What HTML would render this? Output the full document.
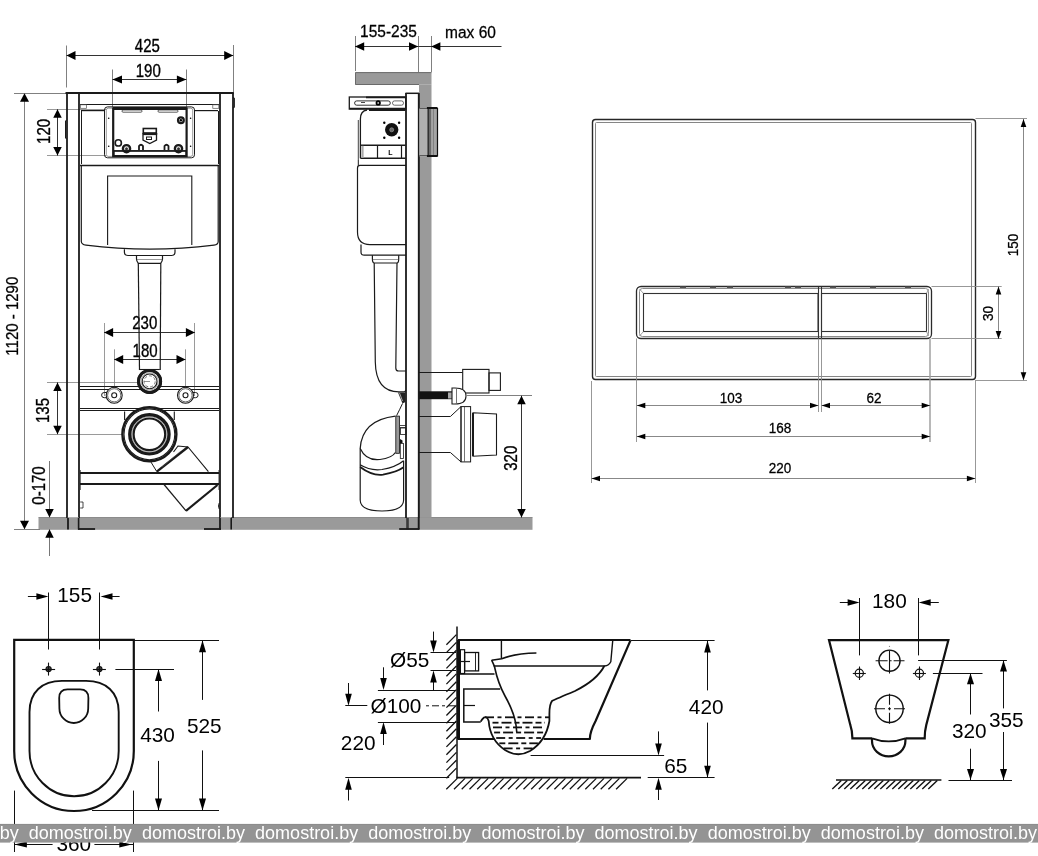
<!DOCTYPE html>
<html><head><meta charset="utf-8"><style>
html,body{margin:0;padding:0;background:#fff;overflow:hidden;}
svg{display:block;will-change:transform}
text{font-family:"Liberation Sans",sans-serif;}
</style></head><body>
<svg width="1038" height="856" viewBox="0 0 1038 856">
<rect width="1038" height="856" fill="#fff"/>
<rect x="38.5" y="517.5" width="494" height="12.3" fill="#9a9a9a" stroke="none" stroke-width="1" rx="0" />
<line x1="38.5" y1="517.5" x2="532.5" y2="517.5" stroke="#7a7a7a" stroke-width="0.8" />
<line x1="66.5" y1="45.5" x2="66.5" y2="87.5" stroke="#808080" stroke-width="1" />
<line x1="233.5" y1="45" x2="233.5" y2="92" stroke="#808080" stroke-width="1" />
<line x1="112.5" y1="69.5" x2="112.5" y2="107" stroke="#808080" stroke-width="1" />
<line x1="186.5" y1="69.5" x2="186.5" y2="107" stroke="#808080" stroke-width="1" />
<line x1="14" y1="93.5" x2="66" y2="93.5" stroke="#808080" stroke-width="1" />
<line x1="47" y1="109.5" x2="106" y2="109.5" stroke="#808080" stroke-width="0.8" />
<line x1="47" y1="155.5" x2="106" y2="155.5" stroke="#808080" stroke-width="0.8" />
<line x1="104.5" y1="323" x2="104.5" y2="396" stroke="#808080" stroke-width="0.8" />
<line x1="194.5" y1="323" x2="194.5" y2="396" stroke="#808080" stroke-width="0.8" />
<line x1="114.5" y1="349.3" x2="114.5" y2="388" stroke="#808080" stroke-width="0.8" />
<line x1="185.5" y1="349.3" x2="185.5" y2="388" stroke="#808080" stroke-width="0.8" />
<line x1="47" y1="382.5" x2="140" y2="382.5" stroke="#808080" stroke-width="0.8" />
<line x1="47" y1="434.5" x2="149.5" y2="434.5" stroke="#808080" stroke-width="0.8" />
<line x1="14" y1="529.5" x2="40" y2="529.5" stroke="#808080" stroke-width="1" />
<line x1="66.5" y1="55.5" x2="233.2" y2="55.5" stroke="#333" stroke-width="1" />
<polygon points="66.50,55.50 75.50,51.00 75.50,60.00" fill="#000"/>
<polygon points="233.20,55.50 224.20,60.00 224.20,51.00" fill="#000"/>
<line x1="112.5" y1="79.5" x2="186.4" y2="79.5" stroke="#333" stroke-width="1" />
<polygon points="112.50,79.50 122.00,75.50 122.00,83.50" fill="#000"/>
<polygon points="186.40,79.50 176.90,83.50 176.90,75.50" fill="#000"/>
<line x1="24.5" y1="93.3" x2="24.5" y2="529.3" stroke="#808080" stroke-width="1" />
<polygon points="24.50,93.30 29.00,101.80 20.00,101.80" fill="#000"/>
<polygon points="24.50,529.30 20.00,520.80 29.00,520.80" fill="#000"/>
<line x1="57.5" y1="109.3" x2="57.5" y2="155.6" stroke="#333" stroke-width="1" />
<polygon points="57.50,109.30 61.75,117.80 53.25,117.80" fill="#000"/>
<polygon points="57.50,155.60 53.25,147.10 61.75,147.10" fill="#000"/>
<line x1="104.1" y1="332.5" x2="194.9" y2="332.5" stroke="#333" stroke-width="1" />
<polygon points="104.10,332.50 113.10,328.00 113.10,337.00" fill="#000"/>
<polygon points="194.90,332.50 185.90,337.00 185.90,328.00" fill="#000"/>
<line x1="114.2" y1="359.5" x2="185.5" y2="359.5" stroke="#333" stroke-width="1" />
<polygon points="114.20,359.50 123.20,355.00 123.20,364.00" fill="#000"/>
<polygon points="185.50,359.50 176.50,364.00 176.50,355.00" fill="#000"/>
<line x1="57.5" y1="382.4" x2="57.5" y2="434.2" stroke="#333" stroke-width="1" />
<polygon points="57.50,382.40 61.75,390.90 53.25,390.90" fill="#000"/>
<polygon points="57.50,434.20 53.25,425.70 61.75,425.70" fill="#000"/>
<line x1="49.5" y1="461" x2="49.5" y2="517.6" stroke="#777" stroke-width="1" />
<polygon points="49.50,517.60 45.25,509.10 53.75,509.10" fill="#000"/>
<line x1="49.5" y1="529.3" x2="49.5" y2="556" stroke="#777" stroke-width="1" />
<polygon points="49.50,529.30 53.75,537.80 45.25,537.80" fill="#000"/>
<text x="0" y="0" font-size="15.5" text-anchor="middle" fill="#000" stroke="#000" stroke-width="0.3" transform="translate(147.4 51.7) scale(0.97 1.14)" >425</text>
<text x="0" y="0" font-size="15.5" text-anchor="middle" fill="#000" stroke="#000" stroke-width="0.3" transform="translate(148.3 76.7) scale(0.97 1.14)" >190</text>
<text x="0" y="0" font-size="15.5" text-anchor="middle" fill="#000" stroke="#000" stroke-width="0.3" transform="translate(144.8 329.3) scale(0.97 1.14)" >230</text>
<text x="0" y="0" font-size="15.5" text-anchor="middle" fill="#000" stroke="#000" stroke-width="0.3" transform="translate(145.1 357.1) scale(0.97 1.14)" >180</text>
<text x="0" y="0" font-size="15.5" text-anchor="middle" fill="#000" stroke="#000" stroke-width="0.3" transform="translate(50.1 131.4) rotate(-90) scale(0.97 1.14)" >120</text>
<text x="0" y="0" font-size="15.5" text-anchor="middle" fill="#000" stroke="#000" stroke-width="0.3" transform="translate(49.4 410.5) rotate(-90) scale(0.97 1.14)" >135</text>
<text x="0" y="0" font-size="15.5" text-anchor="middle" fill="#000" stroke="#000" stroke-width="0.3" transform="translate(44.6 485.5) rotate(-90) scale(0.97 1.14)" >0-170</text>
<text x="0" y="0" font-size="15" text-anchor="middle" fill="#000" stroke="#000" stroke-width="0.25" transform="translate(18 316.2) rotate(-90) scale(1 1.1)" >1120 - 1290</text>
<line x1="67.0" y1="92.3" x2="67.0" y2="518" stroke="#1a1a1a" stroke-width="1.8" />
<line x1="79.0" y1="92.3" x2="79.0" y2="518" stroke="#1a1a1a" stroke-width="1.8" />
<line x1="220.0" y1="92.3" x2="220.0" y2="518" stroke="#1a1a1a" stroke-width="1.8" />
<line x1="233.0" y1="92.3" x2="233.0" y2="518" stroke="#1a1a1a" stroke-width="1.8" />
<line x1="65.5" y1="93.0" x2="233.7" y2="93.0" stroke="#1a1a1a" stroke-width="2" />
<path d="M233.2,97.5 L234.3,98.5 L234.3,107 L233.2,108" fill="none" stroke="#1a1a1a" stroke-width="1.2" />
<path d="M66.5,120 L65.5,121 L65.5,138 L66.5,139" fill="none" stroke="#1a1a1a" stroke-width="1" />
<line x1="68.0" y1="517.6" x2="68.0" y2="529.5" stroke="#1a1a1a" stroke-width="1.8" />
<line x1="78.6" y1="517.6" x2="78.6" y2="529.5" stroke="#1a1a1a" stroke-width="1.6" />
<line x1="78" y1="529.0" x2="95.1" y2="529.0" stroke="#1a1a1a" stroke-width="1.8" />
<line x1="220.0" y1="517.6" x2="220.0" y2="529.5" stroke="#1a1a1a" stroke-width="1.8" />
<line x1="231.2" y1="517.6" x2="231.2" y2="529.5" stroke="#1a1a1a" stroke-width="1.6" />
<line x1="204" y1="529.0" x2="221" y2="529.0" stroke="#1a1a1a" stroke-width="1.8" />
<line x1="67.8" y1="517.5" x2="78.6" y2="517.5" stroke="#bbb" stroke-width="0.8" />
<line x1="220.4" y1="517.5" x2="231.2" y2="517.5" stroke="#bbb" stroke-width="0.8" />
<path d="M80.2,502 L83,502 L83,508 L80.2,508" fill="none" stroke="#1a1a1a" stroke-width="0.8" />
<path d="M219.2,503 Q217.6,506 219.2,509" fill="none" stroke="#1a1a1a" stroke-width="0.9" />
<line x1="80" y1="104.5" x2="219" y2="104.5" stroke="#1a1a1a" stroke-width="1.2" />
<path d="M81,110.6 L104,110.6" fill="none" stroke="#1a1a1a" stroke-width="1.2" />
<path d="M195,110.6 L218,110.6" fill="none" stroke="#1a1a1a" stroke-width="1.2" />
<rect x="80.5" y="104.8" width="6" height="3.5" fill="none" stroke="#555" stroke-width="0.7" rx="0" />
<rect x="212.8" y="104.8" width="6" height="3.5" fill="none" stroke="#555" stroke-width="0.7" rx="0" />
<line x1="81.5" y1="111" x2="81.5" y2="164" stroke="#1a1a1a" stroke-width="1" />
<line x1="218.5" y1="111" x2="218.5" y2="164" stroke="#1a1a1a" stroke-width="1" />
<line x1="80" y1="165.5" x2="219" y2="165.5" stroke="#1a1a1a" stroke-width="1.3" />
<rect x="104.5" y="106.9" width="90" height="50.9" fill="none" stroke="#1a1a1a" stroke-width="1" rx="3" />
<rect x="106.3" y="108.2" width="86.4" height="48.2" fill="none" stroke="#555" stroke-width="0.6" rx="2" />
<rect x="113.2" y="108.5" width="73.4" height="47.6" fill="none" stroke="#1a1a1a" stroke-width="2.2" rx="0" />
<line x1="113" y1="108.5" x2="186.8" y2="108.5" stroke="#1a1a1a" stroke-width="3" />
<circle cx="108.7" cy="118.3" r="0.8" fill="#000" stroke="#1a1a1a" stroke-width="0"/>
<circle cx="108.7" cy="146.2" r="0.8" fill="#000" stroke="#1a1a1a" stroke-width="0"/>
<circle cx="190.6" cy="118.3" r="0.8" fill="#000" stroke="#1a1a1a" stroke-width="0"/>
<circle cx="190.6" cy="146.2" r="0.8" fill="#000" stroke="#1a1a1a" stroke-width="0"/>
<rect x="122" y="110" width="20" height="2.2" fill="none" stroke="#1a1a1a" stroke-width="0.7" rx="1" />
<rect x="158" y="110" width="20" height="2.2" fill="none" stroke="#1a1a1a" stroke-width="0.7" rx="1" />
<circle cx="180.9" cy="120.2" r="2.9" fill="none" stroke="#1a1a1a" stroke-width="2.2"/>
<circle cx="180.9" cy="120.2" r="1.2" fill="#000" stroke="#1a1a1a" stroke-width="0"/>
<circle cx="118.3" cy="142.9" r="3.1" fill="none" stroke="#1a1a1a" stroke-width="1.6"/>
<circle cx="126.5" cy="148.7" r="3.6" fill="none" stroke="#1a1a1a" stroke-width="2.4"/>
<circle cx="126.5" cy="148.7" r="1.5" fill="#333" stroke="#1a1a1a" stroke-width="0"/>
<circle cx="178.5" cy="148.7" r="3.6" fill="none" stroke="#1a1a1a" stroke-width="2.4"/>
<circle cx="178.5" cy="148.7" r="1.5" fill="#333" stroke="#1a1a1a" stroke-width="0"/>
<path d="M139,150 L139,146 Q141,143.5 143,146 L143,150" fill="none" stroke="#1a1a1a" stroke-width="1.8" />
<path d="M164.5,150 L164.5,146 Q166.5,143.5 168.5,146 L168.5,150" fill="none" stroke="#1a1a1a" stroke-width="1.8" />
<rect x="114" y="150.8" width="72" height="5" fill="none" stroke="#1a1a1a" stroke-width="1.2" rx="0" />
<line x1="114" y1="151" x2="186" y2="151" stroke="#1a1a1a" stroke-width="1.6" />
<rect x="143.3" y="128.5" width="13" height="4.5" fill="none" stroke="#1a1a1a" stroke-width="1.6" rx="0" />
<path d="M142.3,134 L157.3,134" fill="none" stroke="#1a1a1a" stroke-width="2.2" />
<path d="M143,135 L143,140 L149.8,143.5 L156.5,140 L156.5,135" fill="none" stroke="#1a1a1a" stroke-width="1.3" />
<rect x="146.5" y="137" width="5" height="2.5" fill="none" stroke="#1a1a1a" stroke-width="1" rx="0" />
<path d="M107.6,245 L107.6,176 L191.8,176 L191.8,245" fill="none" stroke="#1a1a1a" stroke-width="1.1" />
<path d="M81.3,166 L81.3,241.5 Q81.5,244.6 86,245.2 Q150,253.2 214,245.2 Q218.2,244.6 218.2,241.5 L218.2,166" fill="none" stroke="#1a1a1a" stroke-width="1.2" />
<path d="M124.4,249.2 L124.4,252 Q124.4,255.5 128,255.5 L171.5,255.5 Q175,255.5 175,252 L175,249.2" fill="none" stroke="#1a1a1a" stroke-width="1.2" />
<path d="M136.5,255.5 L136.5,259 Q136.5,261 138.3,263.4 L160.7,263.4 Q162.5,261 162.5,259 L162.5,255.5" fill="none" stroke="#1a1a1a" stroke-width="1.2" />
<line x1="136.8" y1="259.5" x2="162.3" y2="259.5" stroke="#555" stroke-width="0.6" />
<line x1="138.3" y1="263.4" x2="139.5" y2="370" stroke="#1a1a1a" stroke-width="1.2" />
<line x1="160.8" y1="263.4" x2="160.2" y2="370" stroke="#1a1a1a" stroke-width="1.2" />
<line x1="139.3" y1="369.5" x2="159.8" y2="369.5" stroke="#1a1a1a" stroke-width="1.1" />
<circle cx="149.6" cy="381.4" r="11" fill="#fff" stroke="#1a1a1a" stroke-width="3"/>
<circle cx="149.6" cy="381.4" r="8.6" fill="none" stroke="#777" stroke-width="0.7"/>
<circle cx="149.6" cy="381.4" r="7.4" fill="none" stroke="#1a1a1a" stroke-width="1.1"/>
<circle cx="149.6" cy="381.4" r="5.6" fill="none" stroke="#555" stroke-width="0.8" stroke-dasharray="3,2"/>
<line x1="144" y1="381.5" x2="150" y2="381.5" stroke="#666" stroke-width="0.7" />
<line x1="80" y1="386.5" x2="219" y2="386.5" stroke="#1a1a1a" stroke-width="1.2" />
<line x1="80" y1="389.5" x2="219" y2="389.5" stroke="#1a1a1a" stroke-width="1.2" />
<line x1="80" y1="408.5" x2="219" y2="408.5" stroke="#1a1a1a" stroke-width="1.2" />
<line x1="80" y1="410.5" x2="219" y2="410.5" stroke="#1a1a1a" stroke-width="1.2" />
<circle cx="149.6" cy="381.4" r="11" fill="none" stroke="#1a1a1a" stroke-width="3"/>
<circle cx="149.6" cy="381.4" r="9.4" fill="#fff" stroke="#1a1a1a" stroke-width="0"/>
<circle cx="149.6" cy="381.4" r="8.6" fill="none" stroke="#777" stroke-width="0.7"/>
<circle cx="149.6" cy="381.4" r="7.4" fill="none" stroke="#1a1a1a" stroke-width="1.1"/>
<circle cx="149.6" cy="381.4" r="5.6" fill="none" stroke="#555" stroke-width="0.8" stroke-dasharray="3,2"/>
<line x1="144" y1="381.5" x2="150" y2="381.5" stroke="#666" stroke-width="0.7" />
<path d="M108.2,392.5 L104.2,392.5 A2.6,2.6 0 0 0 104.2,397.7 L108.2,397.7" fill="none" stroke="#1a1a1a" stroke-width="1" />
<circle cx="114.2" cy="395.3" r="8" fill="#fff" stroke="#1a1a1a" stroke-width="1.1"/>
<circle cx="114.2" cy="395.3" r="6.6" fill="none" stroke="#444" stroke-width="0.8"/>
<circle cx="114.2" cy="395.3" r="2.5" fill="none" stroke="#1a1a1a" stroke-width="1.1"/>
<line x1="111.2" y1="386.8" x2="117.2" y2="386.8" stroke="#1a1a1a" stroke-width="1.6" />
<path d="M191.5,392.5 L195.5,392.5 A2.6,2.6 0 0 1 195.5,397.7 L191.5,397.7" fill="none" stroke="#1a1a1a" stroke-width="1" />
<circle cx="185.5" cy="395.3" r="8" fill="#fff" stroke="#1a1a1a" stroke-width="1.1"/>
<circle cx="185.5" cy="395.3" r="6.6" fill="none" stroke="#444" stroke-width="0.8"/>
<circle cx="185.5" cy="395.3" r="2.5" fill="none" stroke="#1a1a1a" stroke-width="1.1"/>
<line x1="182.5" y1="386.8" x2="188.5" y2="386.8" stroke="#1a1a1a" stroke-width="1.6" />
<path d="M124.6,411.4 L124.6,420 M174.3,411.4 L174.3,420" fill="none" stroke="#1a1a1a" stroke-width="1.1" />
<circle cx="149.4" cy="434.3" r="27" fill="#fff" stroke="#1a1a1a" stroke-width="2.4"/>
<circle cx="149.4" cy="434.3" r="25.4" fill="none" stroke="#1a1a1a" stroke-width="1.1"/>
<circle cx="149.4" cy="434.3" r="19.6" fill="none" stroke="#1a1a1a" stroke-width="3.4"/>
<circle cx="149.4" cy="434.3" r="17.6" fill="none" stroke="#777" stroke-width="0.6"/>
<circle cx="149.4" cy="434.3" r="15.8" fill="none" stroke="#1a1a1a" stroke-width="2.2"/>
<path d="M173.5,452 L178,446 L188,447 L208.4,471.6" fill="none" stroke="#1a1a1a" stroke-width="1.1" />
<path d="M156.8,471.6 L188,447" fill="none" stroke="#1a1a1a" stroke-width="2.4" />
<path d="M150.3,461 L156.8,471.6" fill="none" stroke="#1a1a1a" stroke-width="1" />
<path d="M162,467 L181,451" fill="none" stroke="#555" stroke-width="0.6" />
<line x1="80" y1="473.0" x2="219" y2="473.0" stroke="#1a1a1a" stroke-width="2" />
<line x1="80" y1="484.0" x2="219" y2="484.0" stroke="#1a1a1a" stroke-width="2" />
<path d="M163.6,484 L186,510.8" fill="none" stroke="#1a1a1a" stroke-width="1.2" />
<path d="M186,510.8 L217.5,485" fill="none" stroke="#1a1a1a" stroke-width="2.2" />
<path d="M80.5,470 L80.5,490 M218.8,470 L218.8,490" fill="none" stroke="#1a1a1a" stroke-width="0.6" />
<rect x="355" y="72.4" width="76.5" height="12.3" fill="#9a9a9a" stroke="none" stroke-width="1" rx="0" />
<path d="M431.5,72.6 L355.5,72.6 L355.5,84.5 L419,84.5" fill="none" stroke="#6a6a6a" stroke-width="1" />
<rect x="419" y="84.7" width="12.5" height="433" fill="#9a9a9a" stroke="none" stroke-width="1" rx="0" />
<line x1="419.5" y1="93" x2="419.5" y2="517.6" stroke="#444" stroke-width="1" />
<line x1="355.5" y1="36" x2="355.5" y2="71" stroke="#808080" stroke-width="1" />
<line x1="418.5" y1="36" x2="418.5" y2="72" stroke="#808080" stroke-width="1" />
<line x1="431.5" y1="36" x2="431.5" y2="72" stroke="#808080" stroke-width="1" />
<line x1="355" y1="46.5" x2="418.2" y2="46.5" stroke="#333" stroke-width="1" />
<polygon points="355.00,46.50 364.20,42.35 364.20,50.65" fill="#000"/>
<polygon points="418.20,46.50 409.00,50.65 409.00,42.35" fill="#000"/>
<line x1="418.2" y1="46.5" x2="501.5" y2="46.5" stroke="#333" stroke-width="1" />
<polygon points="431.20,46.50 440.40,42.35 440.40,50.65" fill="#000"/>
<text x="0" y="0" font-size="15.5" text-anchor="middle" fill="#000" stroke="#000" stroke-width="0.25" transform="translate(388.5 37.4) scale(1 1.04)" >155-235</text>
<text x="0" y="0" font-size="15.5" text-anchor="middle" fill="#000" stroke="#000" stroke-width="0.25" transform="translate(470.5 38.4) scale(1 1.04)" >max 60</text>
<line x1="406.0" y1="93" x2="406.0" y2="518" stroke="#1a1a1a" stroke-width="1.8" />
<line x1="418.6" y1="93" x2="418.6" y2="529" stroke="#1a1a1a" stroke-width="1.5" />
<line x1="405.5" y1="93.3" x2="419" y2="93.3" stroke="#1a1a1a" stroke-width="1.5" />
<rect x="349.3" y="97" width="56.4" height="12.1" fill="none" stroke="#1a1a1a" stroke-width="1.3" rx="0" />
<line x1="366" y1="97.4" x2="405" y2="97.4" stroke="#1a1a1a" stroke-width="1.6" />
<rect x="354.6" y="100.9" width="35.7" height="4.3" fill="none" stroke="#1a1a1a" stroke-width="0.9" rx="2.1" />
<rect x="392.5" y="100.9" width="11" height="4.3" fill="none" stroke="#444" stroke-width="0.8" rx="2" />
<circle cx="378.2" cy="102.9" r="2.6" fill="#000" stroke="#1a1a1a" stroke-width="0"/>
<circle cx="378.2" cy="102.9" r="0.9" fill="#ccc" stroke="#1a1a1a" stroke-width="0"/>
<line x1="361" y1="102.5" x2="365" y2="102.5" stroke="#1a1a1a" stroke-width="0.8" />
<line x1="349.8" y1="108.5" x2="405" y2="108.5" stroke="#1a1a1a" stroke-width="1.3" />
<path d="M367,110 Q360.4,111 360.4,119 L360.4,158.2" fill="none" stroke="#1a1a1a" stroke-width="1.3" />
<path d="M358.3,120 L358.3,160" fill="none" stroke="#444" stroke-width="1" />
<line x1="369" y1="110.0" x2="405.5" y2="110.0" stroke="#1a1a1a" stroke-width="2" />
<circle cx="391.7" cy="129.8" r="6.7" fill="#111" stroke="#1a1a1a" stroke-width="0"/>
<circle cx="391.7" cy="129.8" r="2.0" fill="#666" stroke="#999" stroke-width="0.7"/>
<circle cx="384.3" cy="122.8" r="1.2" fill="#000" stroke="#1a1a1a" stroke-width="0"/>
<circle cx="384.3" cy="137.8" r="1.2" fill="#000" stroke="#1a1a1a" stroke-width="0"/>
<circle cx="399.1" cy="122.8" r="1.2" fill="#000" stroke="#1a1a1a" stroke-width="0"/>
<circle cx="399.1" cy="137.8" r="1.2" fill="#000" stroke="#1a1a1a" stroke-width="0"/>
<line x1="360.4" y1="145.2" x2="405.5" y2="145.2" stroke="#1a1a1a" stroke-width="1.4" />
<line x1="360.4" y1="158.2" x2="405.5" y2="158.2" stroke="#1a1a1a" stroke-width="1.6" />
<rect x="361.4" y="145.8" width="2.2" height="12" fill="#aaa" stroke="none" stroke-width="1" rx="0" />
<line x1="377.5" y1="145.2" x2="377.5" y2="158.2" stroke="#1a1a1a" stroke-width="1.2" />
<line x1="401.5" y1="145.2" x2="401.5" y2="158.2" stroke="#1a1a1a" stroke-width="1.2" />
<text x="0" y="0" font-size="7" text-anchor="middle" fill="#000" transform="translate(390.3 155)" font-weight="bold">L</text>
<path d="M358.3,160 L358.3,165.4" fill="none" stroke="#1a1a1a" stroke-width="1" />
<path d="M406,165.4 L360,165.4 Q357.5,165.4 357.5,168 L357.5,232 Q357.5,244.6 370,244.6 L406,244.6" fill="none" stroke="#1a1a1a" stroke-width="1.2" />
<path d="M361,244.6 L361,252 Q361,255.2 364,255.2 L406,255.2" fill="none" stroke="#1a1a1a" stroke-width="1.2" />
<path d="M372.4,255.2 L372.4,259 Q372.4,263 374.5,263 L396.8,263 Q398.7,263 398.7,259 L398.7,255.2" fill="none" stroke="#1a1a1a" stroke-width="1.2" />
<line x1="372.6" y1="259.5" x2="398.5" y2="259.5" stroke="#555" stroke-width="0.6" />
<rect x="419.2" y="108.1" width="8" height="48.2" fill="#b0b0b0" stroke="none" stroke-width="1" rx="0" />
<rect x="427" y="108.1" width="4.5" height="48.2" fill="#6a6a6a" stroke="none" stroke-width="1" rx="0" />
<line x1="428.5" y1="108" x2="428.5" y2="156.5" stroke="#333" stroke-width="1" />
<rect x="431.5" y="108.1" width="5.5" height="48.2" fill="#a5a5a5" stroke="none" stroke-width="1" rx="0" />
<line x1="433.5" y1="108" x2="433.5" y2="156.5" stroke="#777" stroke-width="0.8" />
<line x1="437.5" y1="108" x2="437.5" y2="156.5" stroke="#111" stroke-width="1.2" />
<line x1="426.9" y1="108.0" x2="437.5" y2="108.0" stroke="#111" stroke-width="2" />
<line x1="426.9" y1="156.0" x2="437.5" y2="156.0" stroke="#111" stroke-width="2" />
<line x1="419.2" y1="108.5" x2="427" y2="108.5" stroke="#444" stroke-width="0.8" />
<line x1="419.2" y1="155.5" x2="427" y2="155.5" stroke="#444" stroke-width="0.8" />
<path d="M374.2,263 L375.3,362 Q375.8,391.9 399,391.9 L404,391.9 Q405.6,391.9 405.6,390" fill="none" stroke="#1a1a1a" stroke-width="1.2" />
<path d="M397,263 L395.8,368 Q395.8,371 398.5,371 L406,371" fill="none" stroke="#1a1a1a" stroke-width="1.2" />
<polygon points="398,392.5 405.5,392.5 405.5,402 402.5,403.5" fill="#222"/>
<path d="M399.5,393 L402.5,401" fill="none" stroke="#ccc" stroke-width="0.8" />
<path d="M402.5,403.5 Q399.5,410 396.6,415.6" fill="none" stroke="#1a1a1a" stroke-width="1" />
<path d="M419,372.5 L462.7,372.5 M452,392.5 L462.7,392.5" fill="none" stroke="#1a1a1a" stroke-width="1" />
<rect x="462.7" y="369.4" width="26.3" height="23.6" fill="none" stroke="#1a1a1a" stroke-width="1.1" rx="0" />
<rect x="489" y="372.9" width="11.4" height="17.5" fill="none" stroke="#1a1a1a" stroke-width="1.1" rx="0" />
<rect x="419.2" y="391.3" width="32.8" height="7.9" fill="#111" stroke="none" stroke-width="1" rx="0" />
<rect x="448" y="392.5" width="4" height="6" fill="#aaa" stroke="none" stroke-width="1" rx="0" />
<path d="M452,388 L455,388 Q466,388 466,396 Q466,404 455,404 L452,404 Z" fill="#fff" stroke="#1a1a1a" stroke-width="1.1" />
<line x1="456.5" y1="389" x2="456.5" y2="403" stroke="#1a1a1a" stroke-width="0.6" />
<line x1="466" y1="395.5" x2="532" y2="395.5" stroke="#808080" stroke-width="1" />
<path d="M395.4,416.1 Q362,420 360.2,448.4 L360.2,500 Q360.2,511 382,511 Q403.6,511 403.6,500 L403.6,460.7" fill="none" stroke="#1a1a1a" stroke-width="1.2" />
<path d="M360.2,448.4 Q366,461 380,459.5 Q392,458 395.4,452.5" fill="none" stroke="#1a1a1a" stroke-width="1.2" />
<path d="M360.2,464.8 Q370,471 382,469.5 Q396,467 403.6,460.7" fill="none" stroke="#1a1a1a" stroke-width="1.2" />
<path d="M360.2,467 Q372,476 383,474.6 Q397,472 403.6,467.2" fill="none" stroke="#1a1a1a" stroke-width="1.8" />
<rect x="395.8" y="416.1" width="3.7" height="37.2" fill="#999" stroke="#111" stroke-width="0.8" rx="0" />
<line x1="400" y1="425.5" x2="406" y2="425.5" stroke="#1a1a1a" stroke-width="0.8" />
<line x1="400" y1="427.5" x2="406" y2="427.5" stroke="#1a1a1a" stroke-width="0.8" />
<rect x="400.5" y="428" width="5.5" height="6.5" fill="none" stroke="#1a1a1a" stroke-width="0.8" rx="0" />
<polygon points="400,439 402.5,440.5 402.5,443 400,443" fill="#111"/>
<rect x="400.3" y="443.5" width="3.3" height="15" fill="none" stroke="#1a1a1a" stroke-width="0.8" rx="0" />
<path d="M419,416.5 L450.4,416.5 L461,406.6 L461,461.9 L450.4,452.5 L419,452.5" fill="none" stroke="#1a1a1a" stroke-width="1" />
<rect x="461" y="406.6" width="9.6" height="55.3" fill="none" stroke="#1a1a1a" stroke-width="1" rx="0" />
<line x1="464.5" y1="407" x2="464.5" y2="461.5" stroke="#1a1a1a" stroke-width="0.6" />
<path d="M473,412.8 L496.5,414 L496.5,455 L473,456.2 Z" fill="none" stroke="#1a1a1a" stroke-width="1.1" />
<line x1="473.0" y1="413" x2="473.0" y2="456" stroke="#1a1a1a" stroke-width="2" />
<line x1="521.5" y1="395.7" x2="521.5" y2="517.6" stroke="#333" stroke-width="1" />
<polygon points="521.50,395.70 525.75,404.20 517.25,404.20" fill="#000"/>
<polygon points="521.50,517.60 517.25,509.10 525.75,509.10" fill="#000"/>
<text x="0" y="0" font-size="15.5" text-anchor="middle" fill="#000" stroke="#000" stroke-width="0.3" transform="translate(517.2 458.3) rotate(-90) scale(0.97 1.14)" >320</text>
<rect x="406.2" y="518" width="2.6" height="11.3" fill="#3a3a3a" stroke="none" stroke-width="1" rx="0" />
<line x1="399.2" y1="529.0" x2="419.4" y2="529.0" stroke="#1a1a1a" stroke-width="1.8" />
<line x1="418.7" y1="517" x2="418.7" y2="529.5" stroke="#1a1a1a" stroke-width="1.6" />
<rect x="592.5" y="119.5" width="383" height="260" fill="none" stroke="#262626" stroke-width="1.4" rx="3" />
<rect x="595.5" y="122.5" width="376" height="254" fill="none" stroke="#858585" stroke-width="1" rx="1" />
<rect x="636.5" y="286.5" width="295" height="52" fill="none" stroke="#2a2a2a" stroke-width="1.3" rx="4.5" />
<rect x="639.5" y="288.5" width="289" height="48" fill="none" stroke="#8a8a8a" stroke-width="1" rx="3" />
<rect x="643.5" y="293.5" width="174.5" height="38" fill="none" stroke="#333" stroke-width="1.1" rx="0" />
<rect x="821.5" y="293.5" width="105" height="38" fill="none" stroke="#333" stroke-width="1.1" rx="0" />
<line x1="818.5" y1="287" x2="818.5" y2="338" stroke="#333" stroke-width="1.1" />
<line x1="821.5" y1="287" x2="821.5" y2="338" stroke="#333" stroke-width="1.1" />
<path d="M639.5,289 L643.5,293.5 M639.5,336 L643.5,331.5 M928.5,289 L926.5,293.5 M928.5,336 L926.5,331.5" fill="none" stroke="#888" stroke-width="0.8" />
<line x1="680" y1="287.0" x2="686" y2="287.0" stroke="#444" stroke-width="1.8" />
<line x1="710" y1="287.0" x2="716" y2="287.0" stroke="#444" stroke-width="1.8" />
<line x1="727" y1="287.0" x2="733" y2="287.0" stroke="#444" stroke-width="1.8" />
<line x1="785" y1="287.0" x2="791" y2="287.0" stroke="#444" stroke-width="1.8" />
<line x1="795" y1="287.0" x2="801" y2="287.0" stroke="#444" stroke-width="1.8" />
<line x1="830" y1="287.0" x2="836" y2="287.0" stroke="#444" stroke-width="1.8" />
<line x1="870" y1="287.0" x2="876" y2="287.0" stroke="#444" stroke-width="1.8" />
<line x1="905" y1="287.0" x2="911" y2="287.0" stroke="#444" stroke-width="1.8" />
<line x1="636.5" y1="338.5" x2="636.5" y2="442" stroke="#8c8c8c" stroke-width="0.9" />
<line x1="818.5" y1="338.5" x2="818.5" y2="412" stroke="#8c8c8c" stroke-width="0.9" />
<line x1="821.5" y1="338.5" x2="821.5" y2="412" stroke="#8c8c8c" stroke-width="0.9" />
<line x1="930" y1="338.5" x2="930" y2="442" stroke="#a0a0a0" stroke-width="1.5" />
<line x1="591.5" y1="381" x2="591.5" y2="483" stroke="#8c8c8c" stroke-width="0.9" />
<line x1="975.5" y1="380" x2="975.5" y2="483" stroke="#8c8c8c" stroke-width="0.9" />
<line x1="931.5" y1="286.5" x2="1001.7" y2="286.5" stroke="#8c8c8c" stroke-width="0.9" />
<line x1="931.5" y1="338.5" x2="1001.7" y2="338.5" stroke="#8c8c8c" stroke-width="0.9" />
<line x1="975.5" y1="118.5" x2="1027" y2="118.5" stroke="#8c8c8c" stroke-width="0.9" />
<line x1="975.5" y1="380.5" x2="1027" y2="380.5" stroke="#8c8c8c" stroke-width="0.9" />
<line x1="636.8" y1="405.5" x2="818.5" y2="405.5" stroke="#7a7a7a" stroke-width="0.9" />
<polygon points="636.80,405.50 645.30,402.70 645.30,408.30" fill="#000"/>
<polygon points="818.50,405.50 810.00,408.30 810.00,402.70" fill="#000"/>
<line x1="821.5" y1="405.5" x2="930.2" y2="405.5" stroke="#7a7a7a" stroke-width="0.9" />
<polygon points="821.50,405.50 830.00,402.70 830.00,408.30" fill="#000"/>
<polygon points="930.20,405.50 921.70,408.30 921.70,402.70" fill="#000"/>
<line x1="636.8" y1="436.5" x2="930.2" y2="436.5" stroke="#7a7a7a" stroke-width="0.9" />
<polygon points="636.80,436.50 645.30,433.70 645.30,439.30" fill="#000"/>
<polygon points="930.20,436.50 921.70,439.30 921.70,433.70" fill="#000"/>
<line x1="591.5" y1="478.5" x2="975.4" y2="478.5" stroke="#7a7a7a" stroke-width="0.9" />
<polygon points="591.50,478.50 600.00,475.70 600.00,481.30" fill="#000"/>
<polygon points="975.40,478.50 966.90,481.30 966.90,475.70" fill="#000"/>
<line x1="998.5" y1="286.4" x2="998.5" y2="338.9" stroke="#7a7a7a" stroke-width="0.9" />
<polygon points="998.50,286.40 1001.30,294.40 995.70,294.40" fill="#000"/>
<polygon points="998.50,338.90 995.70,330.90 1001.30,330.90" fill="#000"/>
<line x1="1023.5" y1="118.9" x2="1023.5" y2="380.3" stroke="#7a7a7a" stroke-width="0.9" />
<polygon points="1023.50,118.90 1026.30,126.90 1020.70,126.90" fill="#000"/>
<polygon points="1023.50,380.30 1020.70,372.30 1026.30,372.30" fill="#000"/>
<text x="0" y="0" font-size="13.5" text-anchor="middle" fill="#000" stroke="#000" stroke-width="0.25" transform="translate(731 402.5) scale(1 1.07)" >103</text>
<text x="0" y="0" font-size="13.5" text-anchor="middle" fill="#000" stroke="#000" stroke-width="0.25" transform="translate(874 402.5) scale(1 1.07)" >62</text>
<text x="0" y="0" font-size="13.5" text-anchor="middle" fill="#000" stroke="#000" stroke-width="0.25" transform="translate(780 432.8) scale(1 1.07)" >168</text>
<text x="0" y="0" font-size="13.5" text-anchor="middle" fill="#000" stroke="#000" stroke-width="0.25" transform="translate(780 473.4) scale(1 1.07)" >220</text>
<text x="0" y="0" font-size="13.5" text-anchor="middle" fill="#000" stroke="#000" stroke-width="0.25" transform="translate(993.4 313.6) rotate(-90) scale(1 1.07)" >30</text>
<text x="0" y="0" font-size="13.5" text-anchor="middle" fill="#000" stroke="#000" stroke-width="0.25" transform="translate(1018.3 245.1) rotate(-90) scale(1 1.07)" >150</text>
<path d="M14.2,639.9 L133.8,639.9 L133.8,751 A59.8,60 0 0 1 14.2,751 Z" fill="none" stroke="#111" stroke-width="2.2" />
<path d="M29.5,751 L29.5,712 C29.5,692 42,680.9 62,680.9 L86,680.9 C106,680.9 118.7,692 118.7,712 L118.7,751 A44.6,45.3 0 0 1 29.5,751 Z" fill="none" stroke="#111" stroke-width="1.9" />
<path d="M59.4,708.4 L59.2,698 Q59.2,689.4 67.5,689.4 L80.1,689.4 Q88.4,689.4 88.4,698 L88.2,708.4 A14.4,14.6 0 0 1 59.4,708.4 Z" fill="none" stroke="#111" stroke-width="1.8" />
<circle cx="48.6" cy="669.1" r="2.6" fill="#444" stroke="#111" stroke-width="1.1"/>
<line x1="42.1" y1="669.5" x2="55.1" y2="669.5" stroke="#111" stroke-width="1.1" />
<line x1="48.5" y1="662.6" x2="48.5" y2="675.6" stroke="#111" stroke-width="1.1" />
<circle cx="99.4" cy="669.1" r="2.6" fill="#444" stroke="#111" stroke-width="1.1"/>
<line x1="92.9" y1="669.5" x2="105.9" y2="669.5" stroke="#111" stroke-width="1.1" />
<line x1="99.5" y1="662.6" x2="99.5" y2="675.6" stroke="#111" stroke-width="1.1" />
<line x1="48.5" y1="592.5" x2="48.5" y2="649.5" stroke="#111" stroke-width="1" />
<line x1="99.5" y1="592.5" x2="99.5" y2="649.5" stroke="#111" stroke-width="1" />
<line x1="115.4" y1="669.5" x2="174" y2="669.5" stroke="#111" stroke-width="1" />
<line x1="134" y1="640.5" x2="219" y2="640.5" stroke="#111" stroke-width="1" />
<line x1="92" y1="810.5" x2="219" y2="810.5" stroke="#111" stroke-width="1" />
<line x1="14.5" y1="790.6" x2="14.5" y2="852" stroke="#111" stroke-width="1" />
<line x1="133.5" y1="790.6" x2="133.5" y2="852" stroke="#111" stroke-width="1" />
<line x1="27.9" y1="596.5" x2="40" y2="596.5" stroke="#111" stroke-width="1" />
<polygon points="48.40,596.50 36.40,599.80 36.40,593.20" fill="#000"/>
<line x1="109" y1="596.5" x2="119.6" y2="596.5" stroke="#111" stroke-width="1" />
<polygon points="100.50,596.50 112.50,593.20 112.50,599.80" fill="#000"/>
<text x="0" y="0" font-size="20.8" text-anchor="middle" fill="#000" transform="translate(74.6 602.3)" >155</text>
<line x1="158.5" y1="669.1" x2="158.5" y2="711.5" stroke="#111" stroke-width="1" />
<polygon points="158.50,669.10 162.00,681.10 155.00,681.10" fill="#000"/>
<line x1="158.5" y1="760.9" x2="158.5" y2="810.5" stroke="#111" stroke-width="1" />
<polygon points="158.50,810.50 155.00,798.50 162.00,798.50" fill="#000"/>
<text x="0" y="0" font-size="20.8" text-anchor="middle" fill="#000" transform="translate(157.5 742.2)" >430</text>
<line x1="202.5" y1="640.2" x2="202.5" y2="699.9" stroke="#111" stroke-width="1" />
<polygon points="202.50,640.20 206.00,652.20 199.00,652.20" fill="#000"/>
<line x1="202.5" y1="750.4" x2="202.5" y2="810.5" stroke="#111" stroke-width="1" />
<polygon points="202.50,810.50 199.00,798.50 206.00,798.50" fill="#000"/>
<text x="0" y="0" font-size="20.8" text-anchor="middle" fill="#000" transform="translate(204.3 732.8)" >525</text>
<line x1="14.2" y1="844.5" x2="52.6" y2="844.5" stroke="#111" stroke-width="1" />
<line x1="94.4" y1="844.5" x2="133.8" y2="844.5" stroke="#111" stroke-width="1" />
<polygon points="14.40,844.50 26.90,841.50 26.90,847.50" fill="#000"/>
<polygon points="131.80,844.50 119.30,847.50 119.30,841.50" fill="#000"/>
<text x="0" y="0" font-size="20.8" text-anchor="middle" fill="#000" transform="translate(73.8 850.8)" >360</text>
<line x1="457" y1="626.5" x2="457" y2="778.5" stroke="#111" stroke-width="1.5" />
<line x1="458.5" y1="640" x2="458.5" y2="739.5" stroke="#111" stroke-width="3" />
<line x1="446.4" y1="644.8" x2="456.4" y2="634.6" stroke="#111" stroke-width="1.3"/>
<line x1="446.4" y1="652.6" x2="456.4" y2="642.4" stroke="#111" stroke-width="1.3"/>
<line x1="446.4" y1="660.5" x2="456.4" y2="650.3" stroke="#111" stroke-width="1.3"/>
<line x1="446.4" y1="668.4" x2="456.4" y2="658.1" stroke="#111" stroke-width="1.3"/>
<line x1="446.4" y1="676.2" x2="456.4" y2="666.0" stroke="#111" stroke-width="1.3"/>
<line x1="446.4" y1="684.1" x2="456.4" y2="673.9" stroke="#111" stroke-width="1.3"/>
<line x1="446.4" y1="691.9" x2="456.4" y2="681.7" stroke="#111" stroke-width="1.3"/>
<line x1="446.4" y1="699.8" x2="456.4" y2="689.6" stroke="#111" stroke-width="1.3"/>
<line x1="446.4" y1="707.6" x2="456.4" y2="697.4" stroke="#111" stroke-width="1.3"/>
<line x1="446.4" y1="715.5" x2="456.4" y2="705.3" stroke="#111" stroke-width="1.3"/>
<line x1="446.4" y1="723.3" x2="456.4" y2="713.1" stroke="#111" stroke-width="1.3"/>
<line x1="446.4" y1="731.2" x2="456.4" y2="721.0" stroke="#111" stroke-width="1.3"/>
<line x1="446.4" y1="739.0" x2="456.4" y2="728.8" stroke="#111" stroke-width="1.3"/>
<line x1="446.4" y1="746.9" x2="456.4" y2="736.7" stroke="#111" stroke-width="1.3"/>
<line x1="446.4" y1="754.7" x2="456.4" y2="744.5" stroke="#111" stroke-width="1.3"/>
<line x1="446.4" y1="762.6" x2="456.4" y2="752.4" stroke="#111" stroke-width="1.3"/>
<line x1="446.4" y1="770.4" x2="456.4" y2="760.2" stroke="#111" stroke-width="1.3"/>
<line x1="446.4" y1="778.3" x2="456.4" y2="768.1" stroke="#111" stroke-width="1.3"/>
<line x1="456.5" y1="777.6" x2="641" y2="777.6" stroke="#111" stroke-width="1.6" />
<line x1="345.3" y1="777.5" x2="449.2" y2="777.5" stroke="#111" stroke-width="1" />
<line x1="647.7" y1="777.5" x2="714.6" y2="777.5" stroke="#111" stroke-width="1" />
<line x1="446.3" y1="789.2" x2="457.3" y2="778.4" stroke="#111" stroke-width="1.3"/>
<line x1="454.0" y1="789.2" x2="465.0" y2="778.4" stroke="#111" stroke-width="1.3"/>
<line x1="461.7" y1="789.2" x2="472.7" y2="778.4" stroke="#111" stroke-width="1.3"/>
<line x1="469.5" y1="789.2" x2="480.5" y2="778.4" stroke="#111" stroke-width="1.3"/>
<line x1="477.2" y1="789.2" x2="488.2" y2="778.4" stroke="#111" stroke-width="1.3"/>
<line x1="484.9" y1="789.2" x2="495.9" y2="778.4" stroke="#111" stroke-width="1.3"/>
<line x1="492.6" y1="789.2" x2="503.6" y2="778.4" stroke="#111" stroke-width="1.3"/>
<line x1="500.3" y1="789.2" x2="511.3" y2="778.4" stroke="#111" stroke-width="1.3"/>
<line x1="508.1" y1="789.2" x2="519.1" y2="778.4" stroke="#111" stroke-width="1.3"/>
<line x1="515.8" y1="789.2" x2="526.8" y2="778.4" stroke="#111" stroke-width="1.3"/>
<line x1="523.5" y1="789.2" x2="534.5" y2="778.4" stroke="#111" stroke-width="1.3"/>
<line x1="531.2" y1="789.2" x2="542.2" y2="778.4" stroke="#111" stroke-width="1.3"/>
<line x1="538.9" y1="789.2" x2="549.9" y2="778.4" stroke="#111" stroke-width="1.3"/>
<line x1="546.7" y1="789.2" x2="557.7" y2="778.4" stroke="#111" stroke-width="1.3"/>
<line x1="554.4" y1="789.2" x2="565.4" y2="778.4" stroke="#111" stroke-width="1.3"/>
<line x1="562.1" y1="789.2" x2="573.1" y2="778.4" stroke="#111" stroke-width="1.3"/>
<line x1="569.8" y1="789.2" x2="580.8" y2="778.4" stroke="#111" stroke-width="1.3"/>
<line x1="577.5" y1="789.2" x2="588.5" y2="778.4" stroke="#111" stroke-width="1.3"/>
<line x1="585.3" y1="789.2" x2="596.3" y2="778.4" stroke="#111" stroke-width="1.3"/>
<line x1="593.0" y1="789.2" x2="604.0" y2="778.4" stroke="#111" stroke-width="1.3"/>
<line x1="600.7" y1="789.2" x2="611.7" y2="778.4" stroke="#111" stroke-width="1.3"/>
<line x1="608.4" y1="789.2" x2="619.4" y2="778.4" stroke="#111" stroke-width="1.3"/>
<line x1="616.1" y1="789.2" x2="627.1" y2="778.4" stroke="#111" stroke-width="1.3"/>
<line x1="458" y1="640.0" x2="630.5" y2="640.0" stroke="#111" stroke-width="2.2" />
<path d="M630.5,640.4 L595.6,721 Q589.8,732 589.8,739.2" fill="none" stroke="#111" stroke-width="2.2" />
<line x1="458" y1="739.0" x2="494.5" y2="739.0" stroke="#111" stroke-width="2.2" />
<line x1="543.6" y1="739.0" x2="590.6" y2="739.0" stroke="#111" stroke-width="2.2" />
<line x1="501.4" y1="640.4" x2="501.4" y2="658.8" stroke="#111" stroke-width="1.4" />
<path d="M612.7,641 L610.8,661.7 Q609,665.5 604.5,666" fill="none" stroke="#111" stroke-width="1.4" />
<line x1="493.7" y1="666" x2="605" y2="666" stroke="#111" stroke-width="1.6" />
<path d="M491.6,660.2 L501.7,658.8 Q516,653.2 536.4,653" fill="none" stroke="#111" stroke-width="1.6" />
<path d="M491.6,660.2 Q494.5,666 494.8,668 Q498,683 505,696 Q514,712 516,725 L516.8,732.5" fill="none" stroke="#111" stroke-width="1.6" />
<path d="M604.3,666 Q597,680 575,691 Q556,699 552.3,700.7 Q549.4,704 549.4,714 L549.4,721 Q546,741 530,751 Q517.6,758 505,750 Q490,740 488.7,721 Q487,716 484,717.5 Q482,719 480.7,721.6" fill="none" stroke="#111" stroke-width="1.8" />
<line x1="459" y1="674" x2="494.5" y2="674" stroke="#111" stroke-width="1.5" />
<path d="M500.2,689.1 L463.8,689.1 L463.8,722 L480.7,722" fill="none" stroke="#111" stroke-width="1.5" />
<line x1="464" y1="705.5" x2="475" y2="705.5" stroke="#111" stroke-width="1.2" />
<rect x="460.4" y="649.7" width="4.2" height="23.8" fill="none" stroke="#111" stroke-width="1.2" rx="0" />
<rect x="464.6" y="652.5" width="14" height="18.4" fill="none" stroke="#111" stroke-width="1.3" rx="0" />
<line x1="475.5" y1="652.5" x2="475.5" y2="670.9" stroke="#111" stroke-width="0.9" />
<line x1="460" y1="661.5" x2="470" y2="661.5" stroke="#111" stroke-width="1.2" />
<line x1="485.0" y1="717.3" x2="494.0" y2="717.3" stroke="#111" stroke-width="1.8"/>
<line x1="497.5" y1="717.3" x2="501.5" y2="717.3" stroke="#111" stroke-width="1.8"/>
<line x1="505.0" y1="717.3" x2="514.0" y2="717.3" stroke="#111" stroke-width="1.8"/>
<line x1="517.5" y1="717.3" x2="521.5" y2="717.3" stroke="#111" stroke-width="1.8"/>
<line x1="525.0" y1="717.3" x2="534.0" y2="717.3" stroke="#111" stroke-width="1.8"/>
<line x1="537.5" y1="717.3" x2="541.5" y2="717.3" stroke="#111" stroke-width="1.8"/>
<line x1="545.0" y1="717.3" x2="549.0" y2="717.3" stroke="#111" stroke-width="1.8"/>
<line x1="492.5" y1="722.7" x2="498.5" y2="722.7" stroke="#111" stroke-width="1.8"/>
<line x1="501.5" y1="722.7" x2="511.5" y2="722.7" stroke="#111" stroke-width="1.8"/>
<line x1="514.5" y1="722.7" x2="519.5" y2="722.7" stroke="#111" stroke-width="1.8"/>
<line x1="522.5" y1="722.7" x2="532.5" y2="722.7" stroke="#111" stroke-width="1.8"/>
<line x1="535.5" y1="722.7" x2="541.5" y2="722.7" stroke="#111" stroke-width="1.8"/>
<line x1="544.5" y1="722.7" x2="545.0" y2="722.7" stroke="#111" stroke-width="1.8"/>
<line x1="493.0" y1="727.4" x2="502.0" y2="727.4" stroke="#111" stroke-width="1.8"/>
<line x1="505.5" y1="727.4" x2="509.5" y2="727.4" stroke="#111" stroke-width="1.8"/>
<line x1="513.0" y1="727.4" x2="522.0" y2="727.4" stroke="#111" stroke-width="1.8"/>
<line x1="525.5" y1="727.4" x2="529.5" y2="727.4" stroke="#111" stroke-width="1.8"/>
<line x1="533.0" y1="727.4" x2="542.0" y2="727.4" stroke="#111" stroke-width="1.8"/>
<line x1="494.1" y1="732.5" x2="500.1" y2="732.5" stroke="#111" stroke-width="1.8"/>
<line x1="503.1" y1="732.5" x2="513.1" y2="732.5" stroke="#111" stroke-width="1.8"/>
<line x1="516.1" y1="732.5" x2="521.1" y2="732.5" stroke="#111" stroke-width="1.8"/>
<line x1="524.1" y1="732.5" x2="534.1" y2="732.5" stroke="#111" stroke-width="1.8"/>
<line x1="537.1" y1="732.5" x2="543.1" y2="732.5" stroke="#111" stroke-width="1.8"/>
<line x1="496.2" y1="738" x2="505.2" y2="738" stroke="#111" stroke-width="1.8"/>
<line x1="508.7" y1="738" x2="512.7" y2="738" stroke="#111" stroke-width="1.8"/>
<line x1="516.2" y1="738" x2="525.2" y2="738" stroke="#111" stroke-width="1.8"/>
<line x1="528.7" y1="738" x2="532.7" y2="738" stroke="#111" stroke-width="1.8"/>
<line x1="536.2" y1="738" x2="541.1" y2="738" stroke="#111" stroke-width="1.8"/>
<line x1="499.3" y1="743.3" x2="505.3" y2="743.3" stroke="#111" stroke-width="1.8"/>
<line x1="508.3" y1="743.3" x2="518.3" y2="743.3" stroke="#111" stroke-width="1.8"/>
<line x1="521.3" y1="743.3" x2="526.3" y2="743.3" stroke="#111" stroke-width="1.8"/>
<line x1="529.3" y1="743.3" x2="537.9" y2="743.3" stroke="#111" stroke-width="1.8"/>
<line x1="503.6" y1="748.4" x2="512.6" y2="748.4" stroke="#111" stroke-width="1.8"/>
<line x1="516.1" y1="748.4" x2="520.1" y2="748.4" stroke="#111" stroke-width="1.8"/>
<line x1="523.6" y1="748.4" x2="532.6" y2="748.4" stroke="#111" stroke-width="1.8"/>
<line x1="631" y1="640.5" x2="714.6" y2="640.5" stroke="#111" stroke-width="1" />
<line x1="530.6" y1="755.5" x2="664.1" y2="755.5" stroke="#111" stroke-width="1" />
<line x1="430.5" y1="652.5" x2="456" y2="652.5" stroke="#111" stroke-width="1" />
<line x1="430.5" y1="670.5" x2="456" y2="670.5" stroke="#111" stroke-width="1" />
<line x1="433.5" y1="631.6" x2="433.5" y2="645" stroke="#111" stroke-width="1" />
<polygon points="433.50,652.50 430.20,640.50 436.80,640.50" fill="#000"/>
<line x1="433.5" y1="678" x2="433.5" y2="690.5" stroke="#111" stroke-width="1" />
<polygon points="433.50,670.50 436.80,682.50 430.20,682.50" fill="#000"/>
<text x="0" y="0" font-size="20.8" text-anchor="middle" fill="#000" transform="translate(409.7 667.4)" >Ø55</text>
<line x1="377.9" y1="690.5" x2="456" y2="690.5" stroke="#111" stroke-width="1" />
<line x1="377.9" y1="722.5" x2="456" y2="722.5" stroke="#111" stroke-width="1" />
<line x1="383.5" y1="667.3" x2="383.5" y2="682" stroke="#111" stroke-width="1" />
<polygon points="383.50,690.10 380.20,678.10 386.80,678.10" fill="#000"/>
<line x1="383.5" y1="730" x2="383.5" y2="745" stroke="#111" stroke-width="1" />
<polygon points="383.50,722.00 386.80,734.00 380.20,734.00" fill="#000"/>
<text x="0" y="0" font-size="20.8" text-anchor="middle" fill="#000" transform="translate(396 713.4)" >Ø100</text>
<line x1="426" y1="705.8" x2="456" y2="705.8" stroke="#111" stroke-width="1" stroke-dasharray="3,3,7,3"/>
<line x1="345.3" y1="705.5" x2="367.3" y2="705.5" stroke="#111" stroke-width="1" />
<line x1="348.5" y1="683" x2="348.5" y2="698" stroke="#111" stroke-width="1" />
<polygon points="348.50,705.80 345.20,693.80 351.80,693.80" fill="#000"/>
<line x1="348.5" y1="786" x2="348.5" y2="800.5" stroke="#111" stroke-width="1" />
<polygon points="348.50,777.70 351.80,789.70 345.20,789.70" fill="#000"/>
<text x="0" y="0" font-size="20.8" text-anchor="middle" fill="#000" transform="translate(358.2 749.8)" >220</text>
<line x1="707.5" y1="640.4" x2="707.5" y2="690.4" stroke="#111" stroke-width="1" />
<polygon points="707.50,640.40 710.80,652.40 704.20,652.40" fill="#000"/>
<line x1="707.5" y1="722.6" x2="707.5" y2="777.7" stroke="#111" stroke-width="1" />
<polygon points="707.50,777.70 704.20,765.70 710.80,765.70" fill="#000"/>
<text x="0" y="0" font-size="20.8" text-anchor="middle" fill="#000" transform="translate(706.2 714)" >420</text>
<line x1="658.5" y1="731.4" x2="658.5" y2="748" stroke="#111" stroke-width="1" />
<polygon points="658.50,755.60 655.20,743.60 661.80,743.60" fill="#000"/>
<line x1="658.5" y1="786" x2="658.5" y2="800" stroke="#111" stroke-width="1" />
<polygon points="658.50,777.70 661.80,789.70 655.20,789.70" fill="#000"/>
<text x="0" y="0" font-size="20.8" text-anchor="middle" fill="#000" transform="translate(675.7 772.9)" >65</text>
<path d="M905.4,738.3 L924.7,738.3 Q924.7,731 926.3,724.9 L948.4,640.1 L829,640.1 L850.3,724.9 Q852.4,731 852.4,738.3 L872,738.3" fill="none" stroke="#111" stroke-width="2.2" />
<path d="M872,738.3 Q888.7,744.5 905.4,738.3" fill="none" stroke="#111" stroke-width="1.8" />
<path d="M872,738.3 L872,741 A16.7,15.3 0 0 0 905.4,741 L905.4,738.3" fill="none" stroke="#111" stroke-width="2.2" />
<circle cx="889.5" cy="660.7" r="10.6" fill="none" stroke="#111" stroke-width="1.4"/>
<line x1="875.6" y1="660.7" x2="904.5" y2="660.7" stroke="#111" stroke-width="1.1" stroke-dasharray="12,2,2,2,12"/>
<line x1="889.5" y1="650.5" x2="889.5" y2="673.5" stroke="#111" stroke-width="1.1"/>
<circle cx="889.5" cy="646.4" r="0.6" fill="#888" stroke="#111" stroke-width="0"/>
<circle cx="859.3" cy="673.3" r="4.1" fill="none" stroke="#111" stroke-width="1.2"/>
<line x1="852.8" y1="673.5" x2="865.8" y2="673.5" stroke="#111" stroke-width="1.1" />
<line x1="859.5" y1="666.5" x2="859.5" y2="680" stroke="#111" stroke-width="1.1" />
<circle cx="919.4" cy="673.3" r="4.1" fill="none" stroke="#111" stroke-width="1.2"/>
<line x1="912.9" y1="673.5" x2="925.9" y2="673.5" stroke="#111" stroke-width="1.1" />
<line x1="919.5" y1="666.5" x2="919.5" y2="680" stroke="#111" stroke-width="1.1" />
<circle cx="889.5" cy="708.8" r="13.7" fill="none" stroke="#111" stroke-width="1.4"/>
<line x1="874" y1="708.8" x2="905" y2="708.8" stroke="#111" stroke-width="1.1" stroke-dasharray="11,3,3,3,11"/>
<line x1="889.5" y1="693.8" x2="889.5" y2="724.5" stroke="#111" stroke-width="1.1" stroke-dasharray="11,2.5,3,2.5,11"/>
<line x1="859.5" y1="598" x2="859.5" y2="655.4" stroke="#111" stroke-width="1" />
<line x1="918.5" y1="598" x2="918.5" y2="655.4" stroke="#111" stroke-width="1" />
<line x1="918.1" y1="660.5" x2="1006.9" y2="660.5" stroke="#111" stroke-width="1" />
<line x1="932.9" y1="673.5" x2="982.5" y2="673.5" stroke="#111" stroke-width="1" />
<line x1="839.8" y1="602.5" x2="850" y2="602.5" stroke="#111" stroke-width="1" />
<polygon points="859.60,602.50 847.60,605.80 847.60,599.20" fill="#000"/>
<line x1="928" y1="602.5" x2="938.8" y2="602.5" stroke="#111" stroke-width="1" />
<polygon points="918.70,602.50 930.70,599.20 930.70,605.80" fill="#000"/>
<text x="0" y="0" font-size="20.8" text-anchor="middle" fill="#000" transform="translate(889.4 607.8)" >180</text>
<line x1="836" y1="780" x2="941.4" y2="780" stroke="#111" stroke-width="1.6" />
<line x1="948.5" y1="780.5" x2="1012" y2="780.5" stroke="#111" stroke-width="1" />
<line x1="832.3" y1="789" x2="841.3" y2="780.6" stroke="#111" stroke-width="1.4"/>
<line x1="838.3" y1="789" x2="847.3" y2="780.6" stroke="#111" stroke-width="1.4"/>
<line x1="844.3" y1="789" x2="853.3" y2="780.6" stroke="#111" stroke-width="1.4"/>
<line x1="850.3" y1="789" x2="859.3" y2="780.6" stroke="#111" stroke-width="1.4"/>
<line x1="856.3" y1="789" x2="865.3" y2="780.6" stroke="#111" stroke-width="1.4"/>
<line x1="862.3" y1="789" x2="871.3" y2="780.6" stroke="#111" stroke-width="1.4"/>
<line x1="868.3" y1="789" x2="877.3" y2="780.6" stroke="#111" stroke-width="1.4"/>
<line x1="874.3" y1="789" x2="883.3" y2="780.6" stroke="#111" stroke-width="1.4"/>
<line x1="880.3" y1="789" x2="889.3" y2="780.6" stroke="#111" stroke-width="1.4"/>
<line x1="886.3" y1="789" x2="895.3" y2="780.6" stroke="#111" stroke-width="1.4"/>
<line x1="892.3" y1="789" x2="901.3" y2="780.6" stroke="#111" stroke-width="1.4"/>
<line x1="898.3" y1="789" x2="907.3" y2="780.6" stroke="#111" stroke-width="1.4"/>
<line x1="904.3" y1="789" x2="913.3" y2="780.6" stroke="#111" stroke-width="1.4"/>
<line x1="910.3" y1="789" x2="919.3" y2="780.6" stroke="#111" stroke-width="1.4"/>
<line x1="916.3" y1="789" x2="925.3" y2="780.6" stroke="#111" stroke-width="1.4"/>
<line x1="922.3" y1="789" x2="931.3" y2="780.6" stroke="#111" stroke-width="1.4"/>
<line x1="928.3" y1="789" x2="937.3" y2="780.6" stroke="#111" stroke-width="1.4"/>
<line x1="970.5" y1="673.2" x2="970.5" y2="714.5" stroke="#111" stroke-width="1" />
<polygon points="970.50,673.20 974.00,684.20 967.00,684.20" fill="#000"/>
<line x1="970.5" y1="748.7" x2="970.5" y2="780" stroke="#111" stroke-width="1" />
<polygon points="970.50,780.00 967.00,769.00 974.00,769.00" fill="#000"/>
<text x="0" y="0" font-size="20.8" text-anchor="middle" fill="#000" transform="translate(969.3 737.5)" >320</text>
<line x1="1003.5" y1="660.5" x2="1003.5" y2="708.4" stroke="#111" stroke-width="1" />
<polygon points="1003.50,660.50 1007.00,671.50 1000.00,671.50" fill="#000"/>
<line x1="1003.5" y1="732" x2="1003.5" y2="780" stroke="#111" stroke-width="1" />
<polygon points="1003.50,780.00 1000.00,769.00 1007.00,769.00" fill="#000"/>
<text x="0" y="0" font-size="20.8" text-anchor="middle" fill="#000" transform="translate(1006.3 727)" >355</text>
<rect x="0" y="823.9" width="1038" height="18.7" fill="#949494" stroke="none" stroke-width="1" rx="0" />
<line x1="0" y1="824.5" x2="1038" y2="824.5" stroke="#888" stroke-width="0.6" />
<text x="0" y="0" font-size="18" text-anchor="start" fill="#fff" transform="translate(-84.35000000000001 839.3)" >domostroi.by</text>
<text x="0" y="0" font-size="18" text-anchor="start" fill="#fff" transform="translate(28.8 839.3)" >domostroi.by</text>
<text x="0" y="0" font-size="18" text-anchor="start" fill="#fff" transform="translate(141.95000000000002 839.3)" >domostroi.by</text>
<text x="0" y="0" font-size="18" text-anchor="start" fill="#fff" transform="translate(255.10000000000002 839.3)" >domostroi.by</text>
<text x="0" y="0" font-size="18" text-anchor="start" fill="#fff" transform="translate(368.25000000000006 839.3)" >domostroi.by</text>
<text x="0" y="0" font-size="18" text-anchor="start" fill="#fff" transform="translate(481.40000000000003 839.3)" >domostroi.by</text>
<text x="0" y="0" font-size="18" text-anchor="start" fill="#fff" transform="translate(594.55 839.3)" >domostroi.by</text>
<text x="0" y="0" font-size="18" text-anchor="start" fill="#fff" transform="translate(707.7 839.3)" >domostroi.by</text>
<text x="0" y="0" font-size="18" text-anchor="start" fill="#fff" transform="translate(820.85 839.3)" >domostroi.by</text>
<text x="0" y="0" font-size="18" text-anchor="start" fill="#fff" transform="translate(934.0 839.3)" >domostroi.by</text>
</svg></body></html>
